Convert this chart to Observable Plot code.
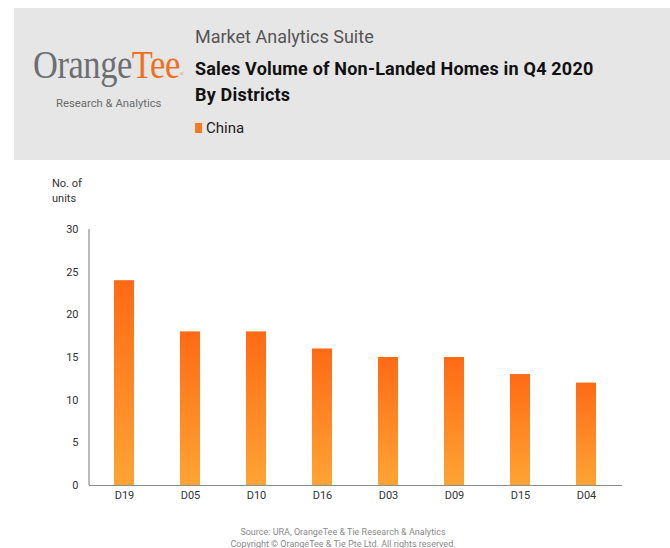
<!DOCTYPE html>
<html>
<head>
<meta charset="utf-8">
<script src="https://cdn.jsdelivr.net/npm/d3@7"></script>
<script src="https://cdn.jsdelivr.net/npm/@observablehq/plot@0.6"></script>
<style>
  body { margin: 0; background: #fff; font-family: Roboto, "Noto Sans", sans-serif; }
  #page { position: relative; width: 670px; height: 548px; overflow: hidden; }
  #header { position: absolute; left: 14px; top: 8px; width: 656px; height: 152px; background: #e6e6e6; }
  .abs { position: absolute; white-space: nowrap; }
  #logo { left: 19px; top: 32px; font-family: "Liberation Serif", "DejaVu Serif", serif; font-size: 41px; color: #6d6e71; letter-spacing: -0.5px; transform: scaleX(0.84); transform-origin: 0 0; }
  #logo .tee { color: #f26f21; }
  #logo sup { font-size: 6px; vertical-align: 2px; color: #f26f21; }
  #logosub { left: 42px; top: 89px; font-size: 11.3px; color: #6b6b6b; }
  #suite { left: 181px; top: 18px; font-size: 18px; color: #555; }
  #title { left: 181px; top: 48px; font-size: 18px; font-weight: bold; color: #111; line-height: 26px; letter-spacing: 0.2px; }
  #legend { left: 181px; top: 111px; font-size: 15px; color: #222; }
  #legend .sw { display: inline-block; width: 7px; height: 10px; background: #ff7a1c; margin-right: 4px; }
  #ylab { left: 52px; top: 176px; font-size: 11px; color: #333; line-height: 15px; }
  #chart { position: absolute; left: 0; top: 170px; }
  #caption { position: absolute; left: 0; width: 686px; top: 526px; text-align: center; font-size: 9px; color: #8a8a8a; line-height: 12px; }
</style>
</head>
<body>
<div id="page">
  <div id="header">
    <div id="logo" class="abs">Orange<span class="tee">Tee</span><sup>®</sup></div>
    <div id="logosub" class="abs">Research &amp; Analytics</div>
    <div id="suite" class="abs">Market Analytics Suite</div>
    <div id="title" class="abs">Sales Volume of Non-Landed Homes in Q4 2020<br>By Districts</div>
    <div id="legend" class="abs"><span class="sw"></span>China</div>
  </div>
  <div id="ylab" class="abs">No. of<br>units</div>
  <div id="chart"></div>
  <div id="caption">Source: URA, OrangeTee &amp; Tie Research &amp; Analytics<br>Copyright © OrangeTee &amp; Tie Pte Ltd. All rights reserved.</div>
</div>
<script>
const districts = ["D19", "D05", "D10", "D16", "D03", "D09", "D15", "D04"];
const units = [24, 18, 18, 16, 15, 15, 13, 12];
const yTicks = [0, 5, 10, 15, 20, 25, 30];

const data = districts.map((d, i) => ({district: d, units: units[i]}));

const chart = Plot.plot({
  width: 670,
  height: 345,
  marginLeft: 89,
  marginRight: 48,
  marginTop: 59,
  marginBottom: 30,
  style: {fontFamily: "Roboto, sans-serif", fontSize: "11px", color: "#333", background: "transparent"},
  x: {domain: districts, paddingInner: 0.69, paddingOuter: 0.34, label: null},
  y: {domain: [0, 30], ticks: yTicks, label: null},
  marks: [
    Plot.axisX({tickSize: 0, tickPadding: 6, fontSize: 11}),
    Plot.axisY({tickSize: 0, tickPadding: 11, fontSize: 11, ticks: yTicks}),
    Plot.barY(data, {x: "district", y: "units", fill: "url(#barGrad)"}),
    Plot.ruleY([0], {stroke: "#8c8c8c", strokeWidth: 1.2})
  ]
});

const svg = d3.select(chart);
const grad = svg.insert("defs", ":first-child")
  .append("linearGradient")
  .attr("id", "barGrad")
  .attr("x1", 0).attr("y1", 0).attr("x2", 0).attr("y2", 1);
grad.append("stop").attr("offset", "0%").attr("stop-color", "#ff6a14");
grad.append("stop").attr("offset", "100%").attr("stop-color", "#ffa434");

const ys = chart.scale("y");
const xs = chart.scale("x");
const x0 = xs.range[0];
svg.append("line")
  .attr("x1", x0).attr("x2", x0)
  .attr("y1", ys.apply(30)).attr("y2", ys.apply(0))
  .attr("stroke", "#8c8c8c").attr("stroke-width", 1.2);

document.getElementById("chart").appendChild(chart);
</script>
</body>
</html>
